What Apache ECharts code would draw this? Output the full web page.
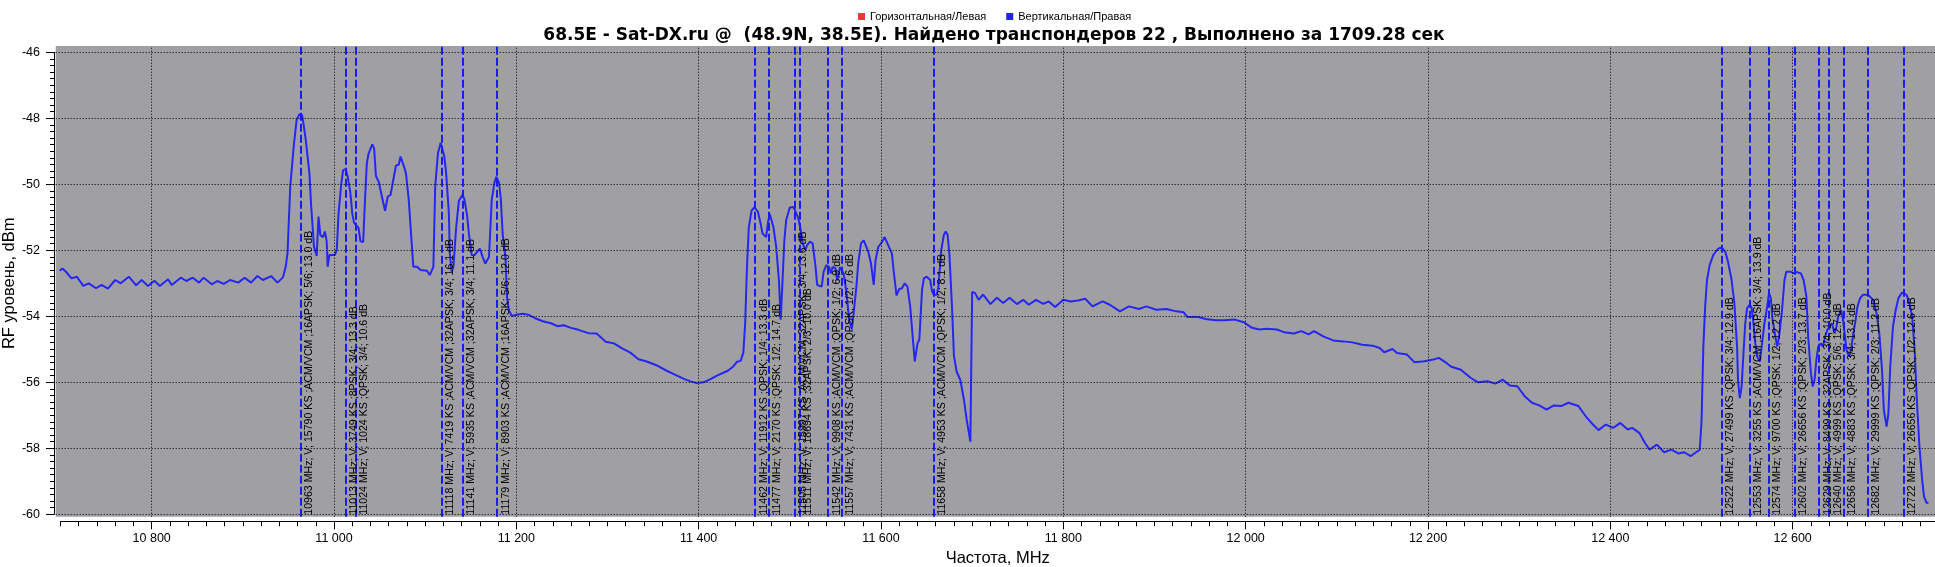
<!DOCTYPE html>
<html><head><meta charset="utf-8">
<script src="https://cdn.jsdelivr.net/npm/echarts@6/dist/echarts.min.js"></script>
<style>html,body{margin:0;padding:0;background:#fff}#c{width:1935px;height:567px}</style>
</head><body><div id="c"></div>
<script>
const freqMHz = [
10699,10702,10706,10712,10718,10725,10731,10739,10745,10752,
10760,10766,10775,10783,10789,10796,10803,10809,10818,10822,
10832,10838,10845,10852,10857,10866,10872,10879,10886,10895,
10902,10909,10916,10922,10931,10938,10944,10947,10949,10952,
10956,10959,10962,10965,10967,10969,10973,10975,10978,10981,
10983,10985,10988,10990,10992,10993,10995,10997,11001,11003,
11005,11008,11010,11013,11015,11018,11020,11022,11024,11027,
11029,11032,11034,11036,11038,11042,11044,11046,11049,11053,
11056,11059,11062,11065,11068,11071,11073,11077,11079,11082,
11085,11087,11091,11095,11102,11105,11109,11111,11114,11117,
11119,11121,11123,11126,11127,11129,11131,11134,11137,11141,
11143,11146,11148,11151,11154,11157,11160,11163,11166,11168,
11170,11173,11176,11178,11181,11183,11185,11188,11190,11192,
11195,11200,11207,11213,11220,11229,11238,11245,11252,11260,
11268,11279,11288,11298,11307,11316,11325,11334,11343,11355,
11365,11375,11385,11392,11398,11405,11412,11420,11432,11438,
11442,11446,11449,11451,11453,11455,11458,11461,11463,11465,
11468,11470,11472,11474,11476,11478,11480,11482,11485,11488,
11490,11492,11494,11496,11500,11504,11506,11509,11512,11514,
11517,11519,11522,11525,11528,11530,11532,11535,11537,11540,
11543,11545,11547,11550,11552,11555,11557,11559,11562,11565,
11568,11570,11573,11575,11578,11581,11584,11586,11589,11592,
11594,11597,11601,11604,11608,11612,11614,11617,11620,11623,
11626,11629,11632,11635,11637,11639,11640,11642,11645,11647,
11650,11652,11654,11656,11658,11661,11663,11666,11669,11671,
11673,11675,11678,11680,11683,11687,11691,11694,11698,11700,
11703,11707,11712,11720,11727,11734,11741,11749,11756,11762,
11770,11778,11784,11791,11800,11808,11816,11824,11832,11843,
11851,11862,11872,11883,11891,11902,11913,11924,11932,11936,
11948,11956,11967,11977,11988,11998,12007,12015,12023,12034,
12042,12053,12061,12069,12075,12085,12096,12107,12117,12128,
12139,12147,12152,12161,12166,12177,12185,12196,12206,12212,
12220,12225,12236,12247,12255,12265,12274,12282,12290,12298,
12306,12314,12322,12330,12338,12346,12354,12365,12373,12381,
12387,12395,12403,12411,12419,12424,12432,12438,12443,12451,
12459,12467,12475,12481,12488,12494,12498,12500,12502,12504,
12506,12509,12513,12517,12520,12523,12526,12529,12533,12536,
12539,12540,12542,12544,12546,12548,12550,12553,12555,12557,
12559,12561,12564,12566,12569,12572,12574,12576,12578,12581,
12583,12585,12588,12591,12593,12595,12598,12601,12604,12606,
12609,12612,12615,12617,12620,12622,12624,12626,12628,12631,
12633,12636,12638,12640,12643,12646,12648,12650,12653,12655,
12657,12659,12662,12664,12666,12669,12671,12674,12677,12681,
12684,12688,12692,12695,12698,12700,12703,12705,12707,12710,
12713,12716,12720,12722,12725,12728,12731,12734,12736,12739,
12742,12744,12747,12749
];
const levelDbm = [
-52.62,-52.55,-52.65,-52.85,-52.80,-53.08,-53.00,-53.15,-53.05,-53.16,
-52.90,-53.00,-52.80,-53.06,-52.90,-53.08,-52.92,-53.08,-52.88,-53.05,
-52.83,-52.93,-52.83,-52.98,-52.83,-53.03,-52.93,-53.02,-52.90,-52.98,
-52.83,-52.98,-52.78,-52.90,-52.78,-52.98,-52.82,-52.50,-52.10,-50.07,
-48.80,-48.05,-47.88,-47.90,-48.25,-48.65,-49.66,-50.68,-51.88,-52.17,
-50.98,-51.54,-51.60,-51.43,-51.73,-52.50,-52.14,-52.14,-52.14,-51.99,
-50.88,-49.97,-49.57,-49.54,-49.77,-50.27,-50.88,-51.16,-51.21,-51.33,
-51.73,-51.75,-50.47,-49.36,-49.06,-48.79,-48.91,-49.75,-49.92,-50.43,
-50.80,-50.37,-50.32,-49.87,-49.43,-49.41,-49.16,-49.48,-49.68,-50.47,
-51.70,-52.50,-52.50,-52.60,-52.62,-52.75,-52.50,-50.07,-49.06,-48.74,
-48.79,-49.16,-49.66,-50.88,-52.09,-52.65,-52.50,-51.30,-50.50,-50.32,
-50.45,-50.95,-51.50,-52.14,-52.15,-52.05,-51.95,-52.20,-52.40,-52.35,
-52.20,-50.47,-49.95,-49.77,-49.95,-50.45,-51.50,-52.20,-53.50,-53.82,
-53.99,-53.95,-53.92,-53.95,-54.05,-54.15,-54.21,-54.30,-54.27,-54.35,
-54.41,-54.51,-54.52,-54.77,-54.82,-54.97,-55.10,-55.30,-55.37,-55.50,
-55.65,-55.78,-55.91,-55.98,-56.02,-56.00,-55.92,-55.80,-55.65,-55.52,
-55.38,-55.35,-55.10,-54.20,-52.50,-51.30,-50.80,-50.70,-50.75,-50.83,
-51.20,-51.49,-51.54,-51.60,-51.15,-50.90,-50.95,-51.30,-51.89,-52.90,
-54.10,-52.90,-51.69,-51.08,-50.70,-50.69,-50.74,-51.00,-51.39,-51.79,
-51.99,-51.84,-51.74,-51.79,-52.45,-53.05,-53.10,-53.10,-52.65,-52.45,
-52.50,-52.70,-52.50,-52.55,-52.90,-52.51,-52.54,-52.70,-53.26,-54.10,
-54.40,-53.90,-53.10,-52.40,-51.79,-51.70,-51.90,-52.04,-52.40,-53.05,
-52.30,-51.90,-51.75,-51.60,-51.85,-52.10,-52.65,-53.37,-53.17,-53.15,
-53.00,-53.10,-53.70,-54.70,-55.37,-55.37,-54.82,-54.72,-53.20,-52.85,
-52.80,-52.85,-52.90,-53.25,-53.35,-53.35,-53.10,-52.00,-51.53,-51.43,
-51.53,-52.10,-53.80,-55.20,-55.68,-55.93,-56.53,-57.14,-57.80,-53.26,
-53.29,-53.50,-53.34,-53.63,-53.44,-53.60,-53.44,-53.63,-53.50,-53.65,
-53.50,-53.62,-53.55,-53.72,-53.50,-53.55,-53.52,-53.47,-53.70,-53.55,
-53.65,-53.85,-53.70,-53.78,-53.70,-53.80,-53.78,-53.85,-53.88,-54.02,
-54.02,-54.08,-54.12,-54.12,-54.10,-54.18,-54.35,-54.40,-54.38,-54.40,
-54.48,-54.52,-54.45,-54.55,-54.45,-54.61,-54.73,-54.76,-54.79,-54.86,
-54.89,-54.96,-55.09,-54.99,-55.11,-55.16,-55.39,-55.36,-55.31,-55.26,
-55.41,-55.52,-55.62,-55.87,-56.00,-55.97,-56.04,-55.92,-56.10,-56.12,
-56.42,-56.62,-56.70,-56.83,-56.70,-56.72,-56.62,-56.72,-57.03,-57.28,
-57.45,-57.28,-57.38,-57.23,-57.43,-57.38,-57.54,-57.84,-58.04,-57.89,
-58.12,-58.04,-58.16,-58.12,-58.24,-58.12,-58.05,-57.20,-54.92,-53.71,
-52.90,-52.44,-52.14,-51.99,-51.92,-51.94,-52.04,-52.34,-52.90,-53.60,
-54.92,-55.93,-56.48,-56.13,-55.12,-54.21,-53.75,-53.65,-53.75,-54.21,
-54.82,-55.22,-55.37,-54.92,-54.21,-53.71,-53.30,-53.45,-54.11,-54.62,
-54.92,-54.62,-53.91,-52.90,-52.65,-52.60,-52.65,-52.70,-52.66,-52.60,
-52.70,-52.90,-53.40,-54.62,-55.73,-56.13,-55.92,-55.32,-54.92,-54.82,
-54.92,-54.57,-54.41,-54.36,-54.21,-54.52,-54.31,-54.00,-53.81,-54.06,
-54.52,-55.02,-55.22,-55.02,-54.62,-54.11,-53.71,-53.45,-53.35,-53.35,
-53.38,-53.50,-53.91,-54.52,-55.63,-56.84,-57.34,-56.94,-55.53,-54.31,
-53.81,-53.45,-53.28,-53.25,-53.35,-53.60,-54.00,-55.12,-56.43,-57.94,
-58.95,-59.46,-59.66,-59.64
];

// transponders found
const tpFreq = [10963,11013,11024,11118,11141,11179,11462,11477,11505,11511,11542,11557,11658,12522,12553,12574,12602,12629,12640,12656,12682,12722];
const tpSR   = [15790,3749,1024,7419,5935,8903,11912,2170,15997,18694,9908,7431,4953,27499,3255,9700,26656,8499,4999,4883,29999,26656];
const tpAcm  = [1,0,0,1,1,1,0,0,1,0,1,1,1,0,1,0,0,0,0,0,0,0];
const tpMod  = ['16APSK','8PSK','QPSK','32APSK','32APSK','16APSK','QPSK','QPSK','32APSK','32APSK','QPSK','QPSK','QPSK','QPSK','16APSK','QPSK','QPSK','32APSK','QPSK','QPSK','QPSK','QPSK'];
const tpFec  = ['5/6','3/4','3/4','3/4','3/4','5/6','1/4','1/2','3/4','2/3','1/2','1/2','1/2','3/4','3/4','1/2','2/3','3/4','5/6','3/4','2/3','1/2'];
const tpCN   = [13.0,13.3,10.6,16.1,11.1,12.0,13.3,14.7,13.6,10.0,6.9,7.6,8.1,12.9,13.9,12.2,13.7,10.0,12.7,13.4,11.2,12.6];

const xTickLabels = [10800,11000,11200,11400,11600,11800,12000,12200,12400,12600];
const yTickLabels = [-60,-58,-56,-54,-52,-50,-48,-46];

const seriesNames = ['Горизонтальная/Левая','Вертикальная/Правая'];
const titleText = '68.5E - Sat-DX.ru @  (48.9N, 38.5E). Найдено транспондеров 22 , Выполнено за 1709.28 сек';

const FONT = 'Liberation Sans';
const spectrum = freqMHz.map((f, i) => [f, levelDbm[i]]);
const tpLines = tpFreq.map((f, i) => ({
  xAxis: f,
  name: f + ' MHz; V; ' + tpSR[i] + ' KS ;' + (tpAcm[i] ? 'ACM/VCM ;' : '') + tpMod[i] + '; ' + tpFec[i] + '; ' + tpCN[i].toFixed(1) + ' dB'
}));
const gridLines = xTickLabels.map(v => ({xAxis: v})).concat(yTickLabels.map(v => ({yAxis: v})));
const fmtThousands = v => String(v).replace(/\B(?=(\d{3})+(?!\d))/g, ' ');

const chart = echarts.init(document.getElementById('c'), null, {renderer: 'canvas'});
chart.setOption({
  animation: false,
  textStyle: {fontFamily: FONT},
  title: {
    text: titleText, left: 989, textAlign: 'center', top: 22,
    textStyle: {fontFamily: 'DejaVu Sans', fontSize: 17, fontWeight: 'bold', color: '#000'}
  },
  legend: {
    data: [{name: seriesNames[0], icon: 'rect'}, {name: seriesNames[1], icon: 'rect'}],
    left: 853, top: 6, itemWidth: 7, itemHeight: 7, itemGap: 20,
    textStyle: {fontFamily: FONT, fontSize: 11, color: '#000'}
  },
  grid: [
    {left: 55.7, right: 0, top: 46, bottom: 50.3, show: true, backgroundColor: '#a0a0a4', borderWidth: 0, outerBoundsMode: 'none', containLabel: false},
    {left: 60.5, right: 0, top: 52.3, bottom: 52.7, outerBoundsMode: 'none', containLabel: false}
  ],
  xAxis: [
    {gridIndex: 0, type: 'value', min: 10694.73, max: 12756.1, show: false},
    {gridIndex: 1, type: 'value', position: 'bottom', min: 10700, max: 12756.1, interval: 20, offset: 7,
     axisLine: {show: true, lineStyle: {color: '#000', width: 1}},
     axisTick: {show: true, length: 5, lineStyle: {color: '#000'}},
     axisLabel: {customValues: xTickLabels, formatter: fmtThousands, fontSize: 12.5, color: '#000', margin: 11, fontFamily: FONT},
     splitLine: {show: false},
     name: 'Частота, MHz', nameLocation: 'middle', nameGap: 29, nameMoveOverlap: false,
     nameTextStyle: {fontSize: 16.5, color: '#000', fontFamily: FONT}},
    {gridIndex: 1, type: 'value', position: 'bottom', min: 10700, max: 12756.1, offset: 7,
     axisLine: {show: false},
     axisTick: {show: true, customValues: xTickLabels, length: 8, lineStyle: {color: '#000'}},
     axisLabel: {show: false}, splitLine: {show: false}}
  ],
  yAxis: [
    {gridIndex: 0, type: 'value', min: -60.073, max: -45.809, show: false},
    {gridIndex: 1, type: 'value', min: -60, max: -46, interval: 2, offset: 6.5,
     axisLine: {show: true, lineStyle: {color: '#000', width: 1}},
     axisTick: {show: true, length: 8, lineStyle: {color: '#000'}},
     minorTick: {show: true, splitNumber: 10, length: 4, lineStyle: {color: '#000'}},
     axisLabel: {fontSize: 12.5, color: '#000', margin: 14, fontFamily: FONT},
     splitLine: {show: false},
     name: 'RF уровень, dBm', nameLocation: 'middle', nameGap: 36, nameMoveOverlap: false,
     nameTextStyle: {fontSize: 16.5, color: '#000', fontFamily: FONT}}
  ],
  series: [
    {type: 'line', xAxisIndex: 0, yAxisIndex: 0, data: [], silent: true, z: 1,
     markLine: {silent: true, symbol: ['none', 'none'], animation: false,
       label: {show: false},
       lineStyle: {color: '#000', width: 1, type: [1, 2]},
       emphasis: {disabled: true},
       data: gridLines}},
    {name: seriesNames[0], type: 'line', xAxisIndex: 1, yAxisIndex: 1, data: [],
     itemStyle: {color: '#ff3333'}, showSymbol: false},
    {name: seriesNames[1], type: 'line', xAxisIndex: 1, yAxisIndex: 1, data: spectrum, z: 3,
     itemStyle: {color: '#2222f0'}, lineStyle: {color: '#2626f2', width: 2}, showSymbol: false, symbol: 'none'},
    {type: 'line', xAxisIndex: 0, yAxisIndex: 0, data: [], silent: true, z: 4,
     markLine: {silent: true, symbol: ['none', 'none'], animation: false,
       lineStyle: {color: '#1a1aff', width: 2, type: [8, 3]},
       label: {show: true, position: 'insideStartBottom', distance: [2, 3], formatter: '{b}',
               color: '#000', fontSize: 10.6, fontFamily: FONT},
       emphasis: {disabled: true},
       data: tpLines}}
  ]
});
</script>
</body></html>
